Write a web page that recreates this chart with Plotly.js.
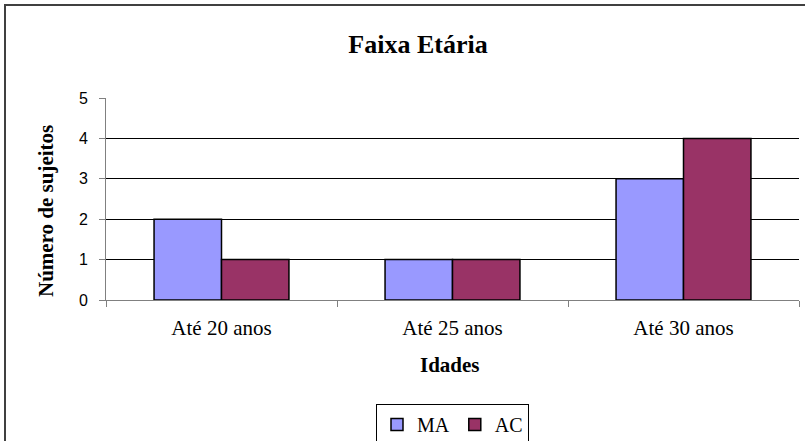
<!DOCTYPE html>
<html>
<head>
<meta charset="utf-8">
<script src="https://cdn.plot.ly/plotly-3.0.1.min.js"></script>
<style>
html,body{margin:0;padding:0;background:#fff;}
#chart{width:805px;height:441px;}
</style>
</head>
<body>
<div id="chart"></div>
<script>
var categories = ["Até 20 anos", "Até 25 anos", "Até 30 anos"];
var valuesMA = [2, 1, 3];
var valuesAC = [1, 1, 4];
var seriesNames = ["MA", "AC"];
var yTicks = [0, 1, 2, 3, 4, 5];

var W = 805, H = 441, L = 106, R = 6, T = 98, B = 141;
var pw = W - L - R, ph = H - T - B;
function px(x){ return (x - L) / pw; }
function py(y){ return (H - B - y) / ph; }

var serif = "Liberation Serif";
var sans = "Liberation Sans";

var traces = [
  {type:"bar", name:seriesNames[0], x:categories, y:valuesMA,
   marker:{color:"#9999FF", line:{color:"#000000", width:1.5}}},
  {type:"bar", name:seriesNames[1], x:categories, y:valuesAC,
   marker:{color:"#993366", line:{color:"#000000", width:1.5}}}
];

var layout = {
  width: W, height: H,
  margin: {l:L, r:R, t:T, b:B, pad:0},
  paper_bgcolor: "#ffffff",
  plot_bgcolor: "#ffffff",
  font: {family: serif, color: "#000"},
  barmode: "group",
  bargap: 0.416,
  bargroupgap: 0,
  showlegend: true,
  title: {
    text: "<b>Faixa Etária</b>",
    font: {family: serif, size: 26, color: "#000", weight: "bold"},
    xref: "container", yref: "container",
    x: 418 / W, xanchor: "center",
    y: 1 - 44 / H, yanchor: "middle"
  },
  xaxis: {
    type: "category",
    showline: true, linecolor: "#808080", linewidth: 1,
    ticks: "outside", tickson: "boundaries", ticklen: 6, tickcolor: "#808080", tickwidth: 1,
    showgrid: false, zeroline: false,
    tickfont: {family: serif, size: 21, color: "#000"},
    ticklabelstandoff: 9,
    title: {text: ""}
  },
  yaxis: {
    range: [0, 5], tickvals: yTicks, ticktext: yTicks.map(String),
    showline: true, linecolor: "#808080", linewidth: 1,
    ticks: "outside", ticklen: 6, tickcolor: "#808080", tickwidth: 1,
    showgrid: true, gridcolor: "#000000", gridwidth: 1,
    zeroline: false,
    tickfont: {family: sans, size: 16, color: "#000"},
    ticklabelstandoff: 8,
    title: {text: ""}
  },
  legend: {
    orientation: "h",
    x: 376 / W, xref: "container", xanchor: "left",
    y: 1 - 404 / H, yref: "container", yanchor: "top",
    bgcolor: "#ffffff", bordercolor: "#000000", borderwidth: 1,
    font: {family: serif, size: 20, color: "#000"},
    itemwidth: 30,
    traceorder: "normal"
  },
  annotations: [
    {text: "<b>Número de sujeitos</b>", textangle: -90,
     xref: "paper", yref: "paper", x: px(46), y: py(211),
     xanchor: "center", yanchor: "middle", showarrow: false,
     font: {family: serif, size: 21, color: "#000"}},
    {text: "<b>Idades</b>",
     xref: "paper", yref: "paper", x: px(450), y: py(365),
     xanchor: "center", yanchor: "middle", showarrow: false,
     font: {family: serif, size: 21, color: "#000"}}
  ],
  shapes: [
    {type: "rect", xref: "paper", yref: "paper",
     x0: px(5), x1: px(808), y0: py(448), y1: py(5),
     line: {color: "#404040", width: 2}, fillcolor: "rgba(0,0,0,0)", layer: "below"}
  ]
};

Plotly.newPlot("chart", traces, layout, {displayModeBar: false, staticPlot: true});
</script>
</body>
</html>
